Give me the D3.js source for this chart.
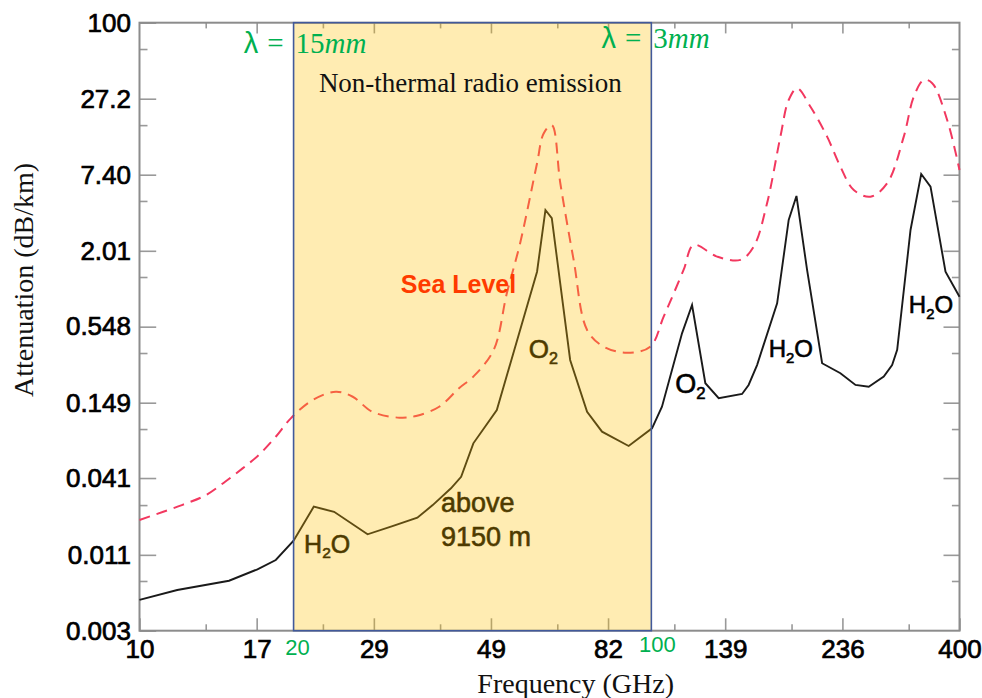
<!DOCTYPE html>
<html lang="en">
<head>
  <meta charset="UTF-8">
  <title>Atmospheric attenuation vs frequency</title>
  <script src="https://d3js.org/d3.v7.min.js"></script>
</head>
<body style="margin: 0; background: #fff;">
<div id="chart"></div>
<script>
  // --- data ---
  const freqHigh = [10, 11.85, 14.96, 17.0, 18.46, 20.0, 21.9, 24.0, 27.9, 31.2, 34.9, 37.4, 40.6, 42.5, 44.9, 49.9,
    59.8, 62.1, 63.9, 69.4, 74.9, 80.1, 90.3, 100.3, 104.9, 114.8, 120.1, 127.5, 135.4, 150.4, 154.9, 160.9,
    176.1, 185.5, 192.1, 201.5, 215.6, 234.1, 250.5, 265.9, 284.5, 295.4, 302.2, 320.9, 336.7, 351.1, 375.6, 400];
  const attenHigh = [0.00508, 0.00602, 0.00706, 0.00859, 0.01007, 0.01402, 0.0251, 0.0230, 0.01564, 0.0180, 0.0208,
    0.0258, 0.0344, 0.0419, 0.0743, 0.1315, 1.405, 4.04, 3.51, 0.310, 0.1277, 0.0907, 0.0710, 0.0961, 0.139, 0.489,
    0.794, 0.208, 0.161, 0.173, 0.202, 0.284, 0.818, 3.41, 5.14, 1.447, 0.293, 0.247, 0.202, 0.196, 0.233, 0.284,
    0.368, 2.87, 7.49, 6.03, 1.405, 0.915];

  const freqSea = [10, 12.1, 13.5, 14.7, 15.9, 17.1, 18.46, 19.75, 21.8, 24.2, 26.1, 28.5, 32.2, 34.7, 38.5, 42.1,
    44.9, 49.2, 52.2, 55.4, 59.8, 61.6, 63.9, 66.4, 70.5, 74.9, 80.7, 89.6, 99.5, 105.7, 115.6, 121.0, 134.4, 149.3,
    158.5, 168.3, 178.7, 185.5, 192.7, 204.6, 220.5, 234.1, 248.6, 268.0, 288.9, 311.3, 325.7, 340.7, 353.8, 378.4, 400];
  const attenSea = [0.0200, 0.0258, 0.0307, 0.0385, 0.0484, 0.0608, 0.0832, 0.114, 0.156, 0.180, 0.165, 0.1277,
    0.1153, 0.1187, 0.139, 0.191, 0.233, 0.368, 0.970, 2.28, 9.00, 15.0, 17.3, 6.39, 1.72, 0.518, 0.389, 0.351, 0.389,
    0.650, 1.447, 2.22, 1.82, 1.72, 2.16, 4.54, 14.2, 26.6, 32.5, 23.7, 14.2, 8.49, 5.69, 5.08, 6.39, 14.2, 28.2,
    37.5, 35.5, 18.9, 8.02];

  const xTickValues = [10, 16.94, 28.7, 48.6, 82.3, 139.4, 236.2, 400];
  const xTickLabels = ["10", "17", "29", "49", "82", "139", "236", "400"];
  const xMinorTicks = [13.47, 22.82, 38.66, 65.5, 110.9, 187.9, 318.3];
  const yTickValues = [0.003, 0.011, 0.041, 0.149, 0.548, 2.01, 7.40, 27.2, 100];
  const yTickLabels = ["0.003", "0.011", "0.041", "0.149", "0.548", "2.01", "7.40", "27.2", "100"];
  const yMinorTicks = [0.00703, 0.0258, 0.0949, 0.349, 1.283, 4.72, 17.3, 63.7];

  const band = [20, 100];
  const bandLabels = ["20", "100"];

  const width = 982, height = 698;
  const plotLeft = 139.5, plotRight = 959.5, plotTop = 22.7, plotBottom = 630.7;

  const svg = d3.select("#chart").append("svg")
    .attr("width", width)
    .attr("height", height)
    .style("display", "block");

  const x = d3.scaleLog().domain([10, 400]).range([plotLeft, plotRight]);
  const y = d3.scaleLog().domain([0.003, 100]).range([plotBottom, plotTop]);

  const sans = "'Liberation Sans', Arial, sans-serif";
  const serif = "'Liberation Serif', 'Times New Roman', serif";
  const tickColor = "#999";

  // the reference text is a little heavier than Liberation Sans regular
  function heavy(sel, color, w) {
    sel.attr("stroke", color).attr("stroke-width", w).attr("paint-order", "stroke");
  }

  function styleAxis(g) {
    g.select(".domain").remove();
    g.selectAll(".tick line").attr("stroke", tickColor).attr("stroke-width", 1.6);
    g.selectAll("text").attr("fill", "#000").style("font-family", sans).style("font-size", "26px")
      .call(heavy, "#000", 0.7);
  }

  // major + minor ticks on all four sides
  svg.append("g").attr("transform", `translate(0,${plotBottom})`)
    .call(d3.axisBottom(x).tickValues(xTickValues)
      .tickFormat(d => xTickLabels[xTickValues.indexOf(d)])
      .tickSizeInner(-12.4).tickSizeOuter(0).tickPadding(9))
    .call(styleAxis);
  svg.append("g").attr("transform", `translate(0,${plotBottom})`)
    .call(d3.axisBottom(x).tickValues(xMinorTicks).tickFormat("").tickSizeInner(-6.4).tickSizeOuter(0))
    .call(styleAxis);
  svg.append("g").attr("transform", `translate(0,${plotTop})`)
    .call(d3.axisTop(x).tickValues(xTickValues.slice(1, -1)).tickFormat("").tickSizeInner(-10.7).tickSizeOuter(0))
    .call(styleAxis);
  svg.append("g").attr("transform", `translate(0,${plotTop})`)
    .call(d3.axisTop(x).tickValues(xMinorTicks).tickFormat("").tickSizeInner(-5.7).tickSizeOuter(0))
    .call(styleAxis);

  svg.append("g").attr("transform", `translate(${plotLeft},0)`)
    .call(d3.axisLeft(y).tickValues(yTickValues)
      .tickFormat(d => yTickLabels[yTickValues.indexOf(d)])
      .tickSizeInner(-16.7).tickSizeOuter(0).tickPadding(8.5))
    .call(styleAxis);
  svg.append("g").attr("transform", `translate(${plotLeft},0)`)
    .call(d3.axisLeft(y).tickValues(yMinorTicks).tickFormat("").tickSizeInner(-8).tickSizeOuter(0))
    .call(styleAxis);
  svg.append("g").attr("transform", `translate(${plotRight},0)`)
    .call(d3.axisRight(y).tickValues(yTickValues.slice(1, -1)).tickFormat("").tickSizeInner(-16).tickSizeOuter(0))
    .call(styleAxis);
  svg.append("g").attr("transform", `translate(${plotRight},0)`)
    .call(d3.axisRight(y).tickValues(yMinorTicks).tickFormat("").tickSizeInner(-7.6).tickSizeOuter(0))
    .call(styleAxis);

  // frame
  svg.append("rect")
    .attr("x", plotLeft).attr("y", plotTop)
    .attr("width", plotRight - plotLeft).attr("height", plotBottom - plotTop)
    .attr("fill", "none")
    .attr("stroke", "#8c8c8c")
    .attr("stroke-width", 2);

  // lines
  const seaData = freqSea.map((f, i) => [f, attenSea[i]]);
  const highData = freqHigh.map((f, i) => [f, attenHigh[i]]);

  svg.append("path")
    .datum(seaData)
    .attr("fill", "none")
    .attr("stroke", "#f2385f")
    .attr("stroke-width", 2)
    .attr("stroke-dasharray", "11,7")
    .attr("d", d3.line().x(d => x(d[0])).y(d => y(d[1])).curve(d3.curveCatmullRom.alpha(0.5)));

  svg.append("path")
    .datum(highData)
    .attr("fill", "none")
    .attr("stroke", "#1a1a1a")
    .attr("stroke-width", 1.9)
    .attr("d", d3.line().x(d => x(d[0])).y(d => y(d[1])));

  // annotations (anchored in data units)
  function chem(sel, base, sub, tail, size) {
    sel.append("tspan").text(base);
    sel.append("tspan").text(sub).attr("dy", size * 0.22).style("font-size", (size * 0.62) + "px");
    if (tail) sel.append("tspan").text(tail).attr("dy", -size * 0.22);
  }
  const notes = [
    { f: 20.97, a: 0.01141, base: "H", sub: "2", tail: "O", size: 25 },
    { f: 57.6, a: 0.319, base: "O", sub: "2", tail: "", size: 26 },
    { f: 111.4, a: 0.175, base: "O", sub: "2", tail: "", size: 27 },
    { f: 169.5, a: 0.324, base: "H", sub: "2", tail: "O", size: 24 },
    { f: 318.4, a: 0.689, base: "H", sub: "2", tail: "O", size: 24 }
  ];
  notes.forEach(n => {
    svg.append("text")
      .attr("x", x(n.f)).attr("y", y(n.a))
      .style("font-family", sans).style("font-size", n.size + "px")
      .attr("fill", "#000")
      .call(heavy, "#000", 0.6)
      .call(chem, n.base, n.sub, n.tail, n.size);
  });

  svg.append("text")
    .attr("x", x(38.8)).attr("y", y(0.0230))
    .style("font-family", sans).style("font-size", "27px").attr("fill", "#000")
    .call(heavy, "#000", 0.6)
    .text("above");
  svg.append("text")
    .attr("x", x(38.8)).attr("y", y(0.0128))
    .style("font-family", sans).style("font-size", "27px").attr("fill", "#000")
    .call(heavy, "#000", 0.6)
    .text("9150 m");

  svg.append("text")
    .attr("x", x(32.4)).attr("y", y(0.981))
    .style("font-family", sans).style("font-size", "25px").style("font-weight", "bold")
    .attr("fill", "#ff0000")
    .text("Sea Level");

  // translucent band for 20-100 GHz, drawn over the lines
  svg.append("rect")
    .attr("x", x(band[0])).attr("y", plotTop)
    .attr("width", x(band[1]) - x(band[0])).attr("height", plotBottom - plotTop)
    .attr("fill", "#ffc000")
    .attr("fill-opacity", 0.3)
    .attr("stroke", "#41599b")
    .attr("stroke-width", 1.6);

  svg.append("text")
    .attr("x", x(44.3)).attr("y", 91.7)
    .attr("text-anchor", "middle")
    .style("font-family", serif).style("font-size", "27px").attr("fill", "#111")
    .text("Non-thermal radio emission");

  // wavelength labels
  const green = "#00b050";
  function lambda(xEdge, baseline, value) {
    const a = svg.append("text")
      .attr("x", xEdge - 10).attr("y", baseline)
      .attr("text-anchor", "end")
      .style("font-family", serif).style("font-size", "29px").attr("fill", green);
    a.append("tspan").text("λ").style("font-family", sans);
    a.append("tspan").text("=").attr("dx", 9);
    const t = svg.append("text")
      .attr("x", xEdge + 2).attr("y", baseline)
      .style("font-family", serif).style("font-size", "29px").attr("fill", green);
    t.append("tspan").text(value);
    t.append("tspan").text("mm").style("font-style", "italic");
  }
  lambda(x(band[0]), 52.5, "15");
  lambda(x(band[1]), 48, "3");

  svg.selectAll(".bandLabel")
    .data(band)
    .enter().append("text")
    .attr("class", "bandLabel")
    .attr("x", (d, i) => x(d) + (i === 0 ? 4 : 6))
    .attr("y", (d, i) => i === 0 ? 655 : 652)
    .attr("text-anchor", "middle")
    .style("font-family", sans).style("font-size", "22px").attr("fill", green)
    .text((d, i) => bandLabels[i]);

  // axis titles
  svg.append("text")
    .attr("x", 575.7).attr("y", 692.7)
    .attr("text-anchor", "middle")
    .style("font-family", serif).style("font-size", "28px").attr("fill", "#111")
    .text("Frequency (GHz)");

  svg.append("text")
    .attr("transform", "translate(33,280) rotate(-90)")
    .attr("text-anchor", "middle")
    .style("font-family", serif).style("font-size", "28px").attr("fill", "#111")
    .text("Attenuation (dB/km)");
</script>
</body>
</html>
